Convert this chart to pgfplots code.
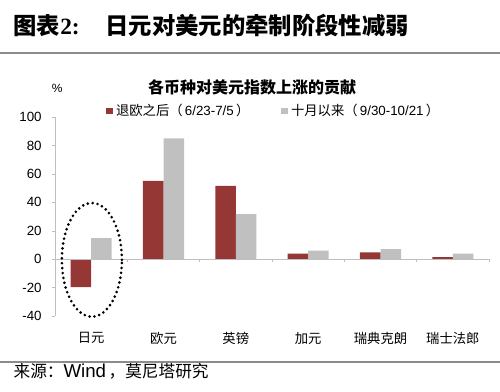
\documentclass[border=0pt]{standalone}
\usepackage{pgfplots}
\pgfplotsset{compat=1.18}
\usepackage{fontspec}
\setmainfont{Liberation Sans}
\newfontfamily\cjk{Noto Sans CJK SC}
\newfontfamily\tnr{Liberation Serif}
\definecolor{barred}{HTML}{953735}
\definecolor{bargray}{HTML}{C0C0C0}
\definecolor{axgray}{HTML}{BFBFBF}
\begin{document}
\begin{tikzpicture}
\useasboundingbox (0,0) rectangle (375pt,-294pt);
\node[anchor=west, inner sep=0] at (10pt,-19pt) {\fontsize{17.5}{20}\selectfont\cjk\bfseries 图表{\tnr\bfseries 2:}\hspace{1.1em}日元对美元的牵制阶段性减弱};
\draw[color=black!45, line width=1.3pt] (0,-39.75pt) -- (375pt,-39.75pt);
\draw[color=black!45, line width=1.1pt] (0,-271.5pt) -- (375pt,-271.5pt);
\node[anchor=west, inner sep=0] at (10pt,-278.8pt) {\fontsize{12.5}{14}\selectfont\cjk 来源：{\rmfamily\fontsize{14}{14}\selectfont Wind}\hspace{0.15em}，莫尼塔研究};
\node[inner sep=0] at (43pt,-66pt) {\fontsize{9}{11}\selectfont\%};
\node[inner sep=0] at (189pt,-65.25pt) {\fontsize{12}{14}\selectfont\cjk\bfseries 各币种对美元指数上涨的贡献};
\begin{axis}[
  at={(41.25pt,-237pt)}, anchor=south west,
  scale only axis, width=325.5pt, height=149.25pt,
  xmin=-0.5, xmax=5.5, ymin=-40, ymax=100,
  ybar=0pt, bar width=15.4pt,
  axis y line*=left, axis x line*=bottom,
  x axis line style={draw=none},
  y axis line style={axgray},
  xtick=data,
  xticklabels={日元,欧元,英镑,加元,瑞典克朗,瑞士法郎},
  x tick style={draw=none},
  xticklabel style={font=\cjk\fontsize{10}{12}\selectfont, yshift=-6pt},
  ytick={-40,-20,0,20,40,60,80,100},
  y tick style={axgray},
  yticklabel style={font=\fontsize{10}{12}\selectfont, xshift=-4pt},
  /pgf/number format/assume math mode=true,
  tick align=outside, major tick length=2.5pt,
  legend style={at={(0.505,1.03)}, anchor=center, draw=none, fill=none,
    legend columns=2, font=\fontsize{10}{12}\selectfont,
    /tikz/every even column/.append style={column sep=22pt}},
  legend image code/.code={\fill[#1] (0pt,-2.6pt) rectangle (5.2pt,2.6pt);},
  clip=false,
]
\addplot[draw=none, fill=barred] coordinates {(0,-19.7) (1,55) (2,51.5) (3,3.8) (4,4.7) (5,1.5)};
\addlegendentry{{\cjk 退欧之后（}\,6/23-7/5\,{\cjk ）}}
\addplot[draw=none, fill=bargray] coordinates {(0,14.8) (1,85) (2,31.7) (3,6) (4,7) (5,3.8)};
\addlegendentry{{\cjk 十月以来（}\,9/30-10/21\,{\cjk ）}}
\draw[axgray] (axis cs:-0.5,0) -- (axis cs:5.5,0);
\pgfplotsinvokeforeach{-0.5,0.5,1.5,2.5,3.5,4.5,5.5}{
  \draw[axgray] (axis cs:#1,0) -- ([yshift=-2.5pt]axis cs:#1,0);
}
\draw[black, line width=2.2pt, line cap=round, dash pattern=on 0pt off 3.7pt] (axis cs:0.01,-0.5) ellipse [x radius=0.415, y radius=40];
\end{axis}
\end{tikzpicture}
\end{document}
